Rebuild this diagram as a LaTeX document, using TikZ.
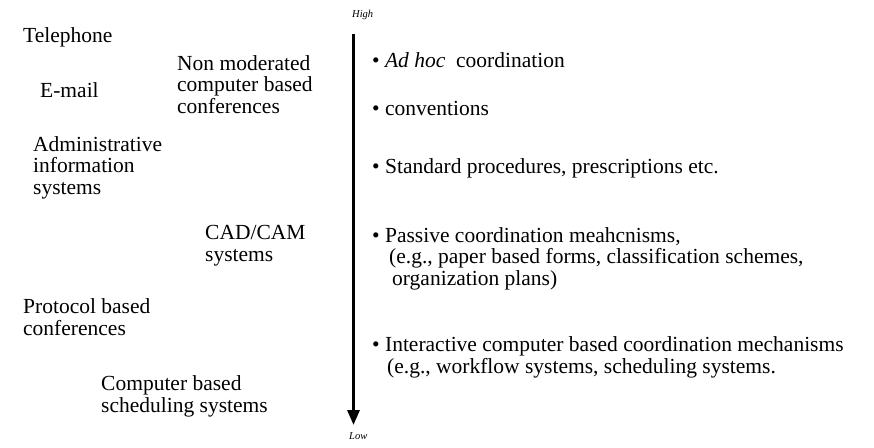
\documentclass[tikz,border=0pt]{standalone}
\usepackage{fontspec}
\setmainfont{Liberation Serif}
\usetikzlibrary{arrows.meta}
\begin{document}
\begin{tikzpicture}[x=1pt,y=-1pt,
  lbl/.style={anchor=base west,inner sep=0pt,align=left,font=\fontsize{21.5}{21.5}\selectfont},
  axislbl/.style={anchor=base west,inner sep=0pt,font=\fontsize{10.5}{12}\selectfont\itshape},
  axis/.style={line width=3pt,-{Triangle[length=15pt,width=12pt]}}]
\useasboundingbox (0,0) rectangle (874,447);
% axis
\node[axislbl] (high) at (352,17) {High};
\node[axislbl] (low) at (349,439) {Low};
\coordinate (atop) at (353.5,34);
\coordinate (abot) at (353.5,425);
\draw[axis] (atop) -- (abot);
% left column (anchor = baseline of last line)
\node[lbl] (tel) at (23,42.5) {Telephone};
\node[lbl] (email) at (40,97) {E-mail};
\node[lbl] (nonmod) at (177,113) {Non moderated\\computer based\\conferences};
\node[lbl] (admin) at (33,194) {Administrative\\information\\systems};
\node[lbl] (cad) at (205,261) {CAD/CAM\\systems};
\node[lbl] (proto) at (23,335) {Protocol based\\conferences};
\node[lbl] (sched) at (101,412) {Computer based\\scheduling systems};
% right column
\node[lbl] (adhoc) at (372,67) {• \textit{Ad hoc}\ \ coordination};
\node[lbl] (conv) at (372,115) {• conventions};
\node[lbl] (std) at (372,173) {• Standard procedures, prescriptions etc.};
\node[lbl] (passive) at (372,285) {• Passive coordination meahcnisms,\\\hspace{17pt}(e.g., paper based forms, classification schemes,\\\hspace{20pt}organization plans)};
\node[lbl] (inter) at (372,373) {• Interactive computer based coordination mechanisms\\\hspace{15pt}(e.g., workflow systems, scheduling systems.};
\end{tikzpicture}
\end{document}
